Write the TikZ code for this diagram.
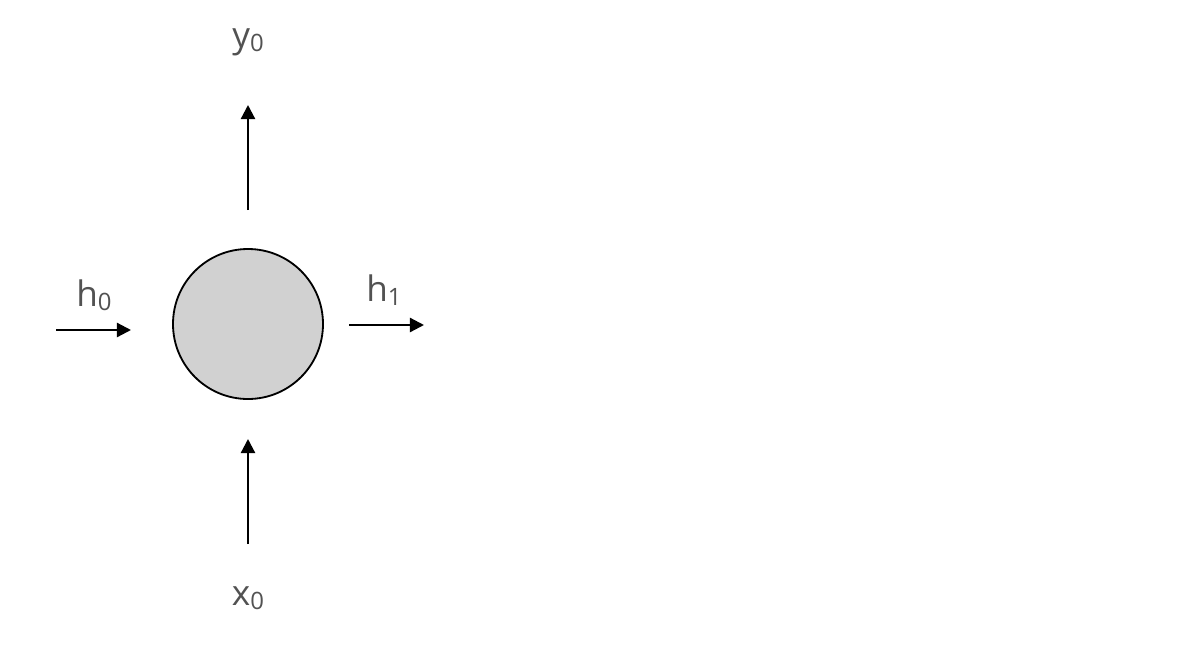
\documentclass[tikz,border=0pt]{standalone}
\usepackage{fontspec}
\setmainfont{Open Sans}
\usetikzlibrary{arrows.meta}
\newcommand{\sbs}[1]{\raisebox{-0.12em}{\fontsize{17}{17}\selectfont #1}}
\tikzset{
cell/.style={circle, draw, line width=1.3pt, fill=black!18, minimum size=150*0.025cm, inner sep=0},
lbl/.style={text=black!68, font=\fontsize{25}{25}\selectfont},
flow/.style={line width=1.6pt, -{Triangle[length=10pt, width=10pt]}}
}
\begin{document}
\begin{tikzpicture}[x=0.025cm, y=-0.025cm]
  \useasboundingbox (0,0) rectangle (1186,660);
  \node[cell] (c) at (248,324) {};
  \node[lbl] (y0) at (248,42) {y\sbs{0}};
  \node[lbl] (x0) at (248,598) {x\sbs{0}};
  \node[lbl] (h0) at (94,295) {h\sbs{0}};
  \node[lbl] (h1) at (384,290) {h\sbs{1}};
  \coordinate (ya) at (248,210); \coordinate (yb) at (248,105);
  \coordinate (xa) at (248,544); \coordinate (xb) at (248,439);
  \coordinate (la) at (56,330); \coordinate (lb) at (131,330);
  \coordinate (ra) at (349,325); \coordinate (rb) at (424,325);
\draw[flow] (ya) -- (yb);
\draw[flow] (xa) -- (xb);
\draw[flow] (la) -- (lb);
\draw[flow] (ra) -- (rb);
\end{tikzpicture}
\end{document}
